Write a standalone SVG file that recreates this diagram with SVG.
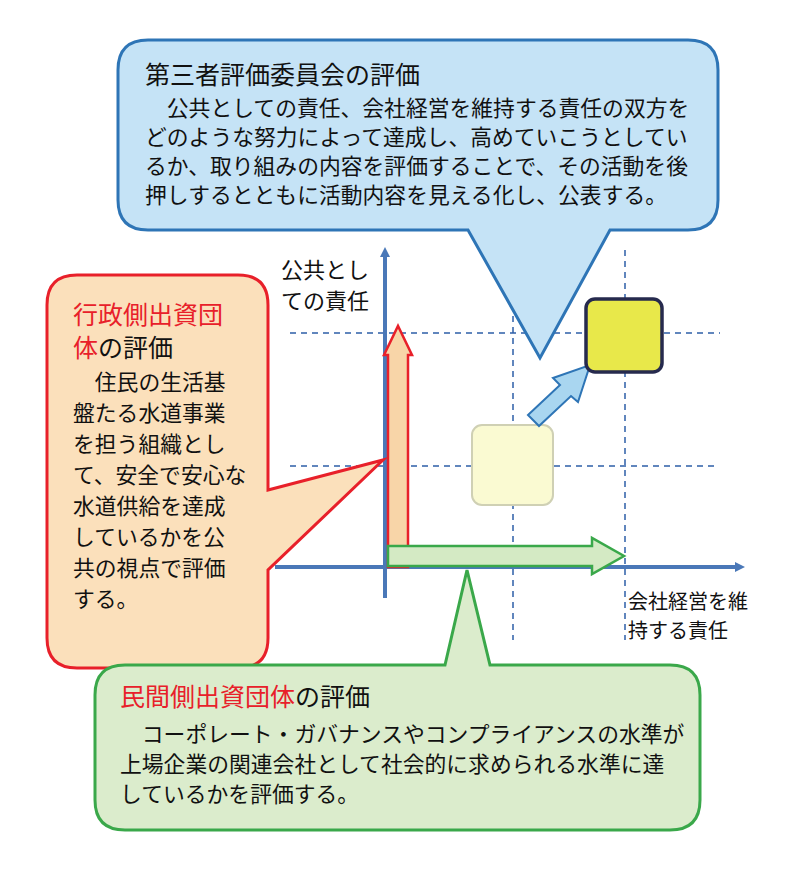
<svg xmlns="http://www.w3.org/2000/svg" width="803" height="870" viewBox="0 0 803 870">
<style>
text{font-family:"Noto Sans CJK JP","Noto Sans",sans-serif;fill:#111}
.t{font-size:25px}.b{font-size:21.8px}.r{fill:#e8202a}
.d{stroke:#2e5fa8;stroke-width:1.5;stroke-dasharray:6 5;fill:none}
</style>
<defs><marker id="ah" markerWidth="10" markerHeight="10" refX="5" refY="5" orient="auto" markerUnits="userSpaceOnUse"><path d="M0,0 L10,5 L0,10z" fill="#4a78b8"/></marker></defs>
<g id="grid">
<line class="d" x1="513" y1="250" x2="513" y2="640"/>
<line class="d" x1="625" y1="250" x2="625" y2="640"/>
<line class="d" x1="290" y1="333" x2="720" y2="333"/>
<line class="d" x1="290" y1="466" x2="715" y2="466"/>
</g>
<g id="connectors">
<line x1="385" y1="598" x2="385" y2="252" stroke="#4a78b8" stroke-width="4" marker-end="url(#ah)"/>
<line x1="275" y1="567" x2="740" y2="567" stroke="#4a78b8" stroke-width="4" marker-end="url(#ah)"/>
</g>
<g id="square-faded"><rect x="472" y="425" width="81" height="80" rx="10" fill="#fafad2" stroke="#cfd0b4" stroke-width="2"/></g>
<g id="arrow-up"><path d="M388,567 L388,355 L384,355 L398,326 L412,355 L408,355 L408,567z" fill="#f8d5a8" stroke="#e8202a" stroke-width="2.5"/></g>
<g id="arrow-right"><path d="M388,546 L592,546 L592,538 L624,556 L592,574 L592,566 L388,566z" fill="#d4eac4" stroke="#3aa84a" stroke-width="2.5"/></g>
<g id="arrow-diag"><path d="M528,415 L560,385 L553,378 L590,365 L578,402 L571,396 L539,426z" fill="#a9d6f0" stroke="#2e75b6" stroke-width="2"/></g>
<g id="square-target"><rect x="586" y="299" width="76" height="73" rx="9" fill="#e8e84a" stroke="#262a4e" stroke-width="3.5"/></g>
<g id="third-party">
<path d="M148,40 H688 Q718,40 718,70 V200 Q718,230 688,230 H610 L540,358 L468,230 H148 Q118,230 118,200 V70 Q118,40 148,40z" fill="#c5e3f6" stroke="#2e75b6" stroke-width="3"/>
<text x="145" y="84" class="t">第三者評価委員会の評価</text>
<text x="145" y="116" class="b">　公共としての責任、会社経営を維持する責任の双方を</text>
<text x="145" y="145" class="b">どのような努力によって達成し、高めていこうとしてい</text>
<text x="145" y="174" class="b">るか、取り組みの内容を評価することで、その活動を後</text>
<text x="145" y="203" class="b">押しするとともに活動内容を見える化し、公表する。</text>
</g>
<g id="gov">
<path d="M77,275 H238 Q268,275 268,305 V490 L383,460 L268,570 V638 Q268,668 238,668 H77 Q47,668 47,638 V305 Q47,275 77,275z" fill="#fbe0bb" stroke="#e8202a" stroke-width="3"/>
<text x="73" y="324" class="t r">行政側出資団</text>
<text x="73" y="357" class="t"><tspan class="r">体</tspan>の評価</text>
<text x="73" y="390" class="b">　住民の生活基</text>
<text x="73" y="421" class="b">盤たる水道事業</text>
<text x="73" y="452" class="b">を担う組織とし</text>
<text x="73" y="483" class="b">て、安全で安心な</text>
<text x="73" y="514" class="b">水道供給を達成</text>
<text x="73" y="545" class="b">しているかを公</text>
<text x="73" y="576" class="b">共の視点で評価</text>
<text x="73" y="607" class="b">する。</text>
</g>
<g id="private">
<path d="M125,665 H445 L467,570 L490,665 H670 Q700,665 700,695 V800 Q700,830 670,830 H125 Q95,830 95,800 V695 Q95,665 125,665z" fill="#dbeccc" stroke="#3aa84a" stroke-width="3"/>
<text x="120" y="706" class="t"><tspan class="r">民間側出資団体</tspan>の評価</text>
<text x="120" y="742" class="b">　コーポレート・ガバナンスやコンプライアンスの水準が</text>
<text x="120" y="772" class="b">上場企業の関連会社として社会的に求められる水準に達</text>
<text x="120" y="802" class="b">しているかを評価する。</text>
</g>
<g id="labels">
<text x="281" y="278" style="font-size:22px">公共とし</text>
<text x="281" y="309" style="font-size:22px">ての責任</text>
<text x="628" y="609" style="font-size:20px">会社経営を維</text>
<text x="628" y="638" style="font-size:20px">持する責任</text>
</g>
</svg>
